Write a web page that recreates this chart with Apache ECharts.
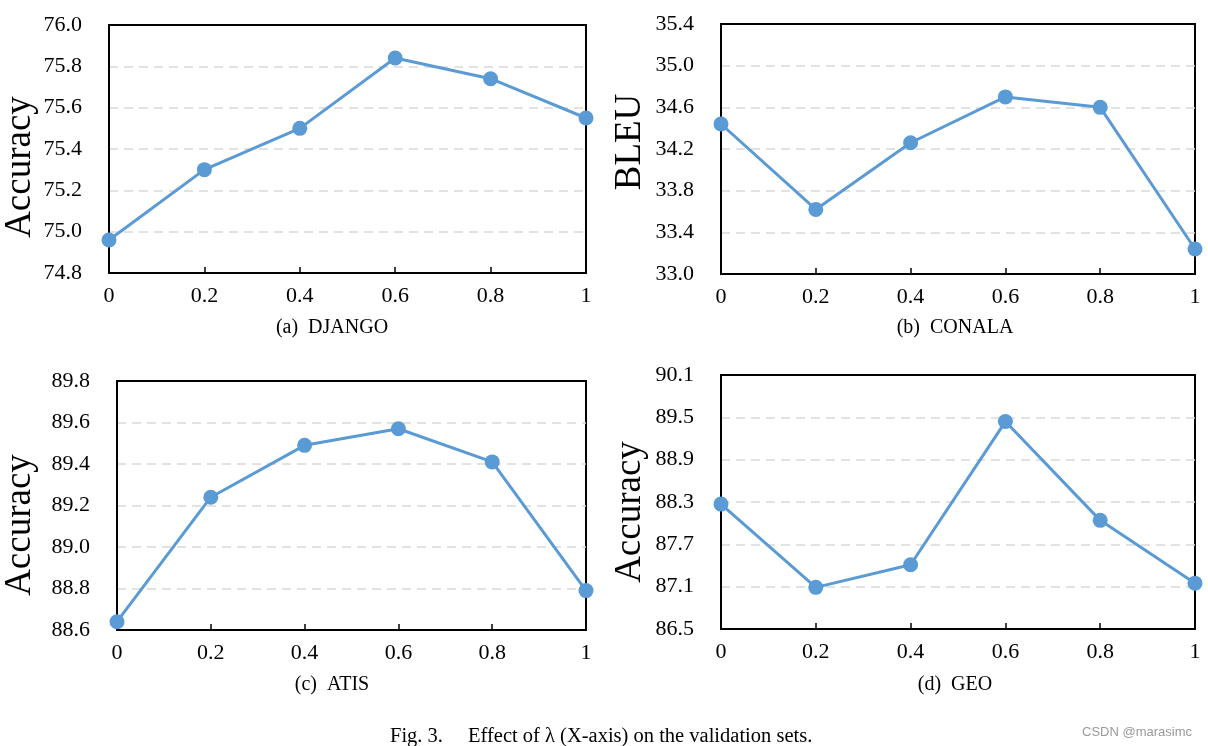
<!DOCTYPE html>
<html>
<head>
<meta charset="utf-8">
<script src="https://cdn.jsdelivr.net/npm/echarts@6/dist/echarts.min.js"></script>
<style>
html,body{margin:0;padding:0;background:#fff;}
#main{width:1208px;height:746px;}
</style>
</head>
<body>
<div id="main"></div>
<script>
// ---- data ----
const lambdas = ['0', '0.2', '0.4', '0.6', '0.8', '1'];
const django = [74.96, 75.30, 75.50, 75.84, 75.74, 75.55];
const conala = [34.44, 33.62, 34.26, 34.70, 34.60, 33.24];
const atis = [88.64, 89.24, 89.49, 89.57, 89.41, 88.79];
const geo = [88.27, 87.09, 87.41, 89.44, 88.04, 87.15];
const panelTitles = ['(a)\u2002DJANGO', '(b)\u2002CONALA', '(c)\u2002ATIS', '(d)\u2002GEO'];
const yNames = ['Accuracy', 'BLEU', 'Accuracy', 'Accuracy'];
const yRanges = [[74.8, 76.0, 0.2, 1], [33.0, 35.4, 0.4, 1], [88.6, 89.8, 0.2, 1], [86.5, 90.1, 0.6, 1]];
const caption = 'Fig. 3.';
const captionText = 'Effect of \u03bb (X-axis) on the validation sets.';
const watermark = 'CSDN @marasimc';

const seriesData = [django, conala, atis, geo];
const FONT = '"Liberation Serif", "Times New Roman", serif';
const BLUE = '#5B9BD5';

const grids = [
  {left: 109, top: 25, width: 477, height: 248},
  {left: 721, top: 24, width: 474, height: 250},
  {left: 117, top: 381, width: 469, height: 249},
  {left: 721, top: 375, width: 474, height: 254}
];

const chart = echarts.init(document.getElementById('main'), null, {renderer: 'canvas'});

const option = {
  backgroundColor: '#fff',
  animation: false,
  grid: grids.map(g => Object.assign({show: true, borderColor: '#000', borderWidth: 2, backgroundColor: 'transparent', containLabel: false}, g)),
  xAxis: grids.map((g, i) => ({
    type: 'category',
    gridIndex: i,
    data: lambdas,
    boundaryGap: false,
    axisLine: {show: true, lineStyle: {color: '#000', width: 2}},
    axisTick: {show: true, inside: true, length: 6, alignWithLabel: true, lineStyle: {color: '#000', width: 1.5}},
    axisLabel: {color: '#000', fontFamily: FONT, fontSize: 22, margin: 12},
    splitLine: {show: false}
  })),
  yAxis: yRanges.map((r, i) => ({
    type: 'value',
    gridIndex: i,
    min: r[0],
    max: r[1],
    interval: r[2],
    axisLine: {show: true, lineStyle: {color: '#000', width: 2}},
    axisTick: {show: false},
    axisLabel: {color: '#000', fontFamily: FONT, fontSize: 22, margin: 27,
      formatter: v => v.toFixed(r[3])},
    splitLine: {show: true, showMinLine: false, showMaxLine: false, lineStyle: {color: '#d9d9d9', width: 1.5, type: [9, 6]}}
  })),
  series: seriesData.map((d, i) => ({
    type: 'line',
    xAxisIndex: i,
    yAxisIndex: i,
    data: d,
    symbol: 'circle',
    symbolSize: 15,
    lineStyle: {color: BLUE, width: 3},
    itemStyle: {color: BLUE},
    z: 5
  })),
  graphic: [
    // y-axis titles
    {type: 'text', x: 20, y: 167, rotation: Math.PI / 2,
      style: {text: yNames[0], font: '37px ' + FONT, fill: '#000', align: 'center', verticalAlign: 'middle'}},
    {type: 'text', x: 630, y: 142, rotation: Math.PI / 2,
      style: {text: yNames[1], font: '37px ' + FONT, fill: '#000', align: 'center', verticalAlign: 'middle'}},
    {type: 'text', x: 20, y: 525, rotation: Math.PI / 2,
      style: {text: yNames[2], font: '37px ' + FONT, fill: '#000', align: 'center', verticalAlign: 'middle'}},
    {type: 'text', x: 630, y: 512, rotation: Math.PI / 2,
      style: {text: yNames[3], font: '37px ' + FONT, fill: '#000', align: 'center', verticalAlign: 'middle'}},
    // panel captions
    {type: 'text', x: 332, y: 328, style: {text: panelTitles[0], font: '20px ' + FONT, fill: '#000', align: 'center', verticalAlign: 'middle'}},
    {type: 'text', x: 955, y: 328, style: {text: panelTitles[1], font: '20px ' + FONT, fill: '#000', align: 'center', verticalAlign: 'middle'}},
    {type: 'text', x: 332, y: 685, style: {text: panelTitles[2], font: '20px ' + FONT, fill: '#000', align: 'center', verticalAlign: 'middle'}},
    {type: 'text', x: 955, y: 685, style: {text: panelTitles[3], font: '20px ' + FONT, fill: '#000', align: 'center', verticalAlign: 'middle'}},
    // figure caption
    {type: 'text', x: 390, y: 737, style: {text: caption, font: '20.5px ' + FONT, fill: '#000', align: 'left', verticalAlign: 'middle'}},
    {type: 'text', x: 468, y: 737, style: {text: captionText, font: '20.5px ' + FONT, fill: '#000', align: 'left', verticalAlign: 'middle'}},
    // watermark
    {type: 'text', x: 1192, y: 732, style: {text: watermark, font: '13px "Liberation Sans", Arial, sans-serif', fill: '#9a9a9a', align: 'right', verticalAlign: 'middle'}}
  ]
};
chart.setOption(option);
</script>
</body>
</html>
